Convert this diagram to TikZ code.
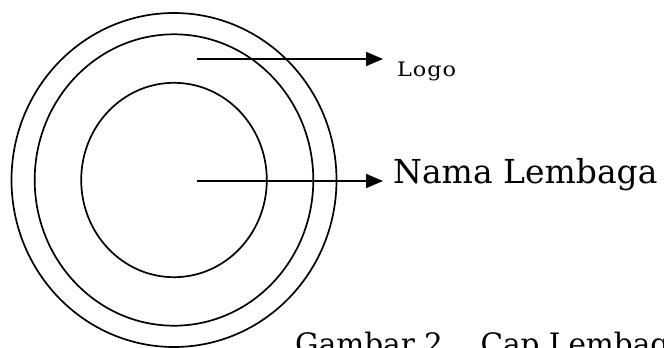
\documentclass[tikz,border=0pt]{standalone}
\usepackage{fontspec}
\setmainfont{DejaVu Serif}
\usetikzlibrary{arrows.meta}

\begin{document}
\begin{tikzpicture}[x=1pt,y=-1pt,
    ring/.style={draw=black, line width=1.7pt},
    pointer/.style={draw=black, line width=1.7pt,
      -{Triangle[length=17pt,width=14pt]}},
    label/.style={inner sep=0pt, anchor=base west}]
  % canvas
  \path[clip] (0,0) rectangle (664,348);
  \fill[white] (0,0) rectangle (664,348);

  % concentric rings of the stamp
  \coordinate (c) at (174,180);
  \draw[ring] (c) ellipse [x radius=162.5, y radius=167];
  \draw[ring] (c) ellipse [x radius=139.3, y radius=145.7];
  \draw[ring] (c) ellipse [x radius=92.8, y radius=97.2];

  % labels
  \node[label] (logo) at (397,76)
    {\fontsize{20}{24}\selectfont\scalebox{1.12}[1]{L\kern0.8pt o\kern0.8pt g\kern0.8pt o}};
  \node[label] (nama) at (393,183.3)
    {\fontsize{33}{40}\selectfont Nama Lembaga};
  \node[label] (caption) at (295,354)
    {\fontsize{29.5}{35}\selectfont Gambar 2.\ \ \ Cap Lembaga};

  % pointers
  \coordinate (logoStart) at (197,59);
  \coordinate (logoEnd) at (383,59);
  \coordinate (namaStart) at (197,181);
  \coordinate (namaEnd) at (383,181);
  \draw[pointer] (logoStart) -- (logoEnd);
  \draw[pointer] (namaStart) -- (namaEnd);
\end{tikzpicture}
\end{document}
